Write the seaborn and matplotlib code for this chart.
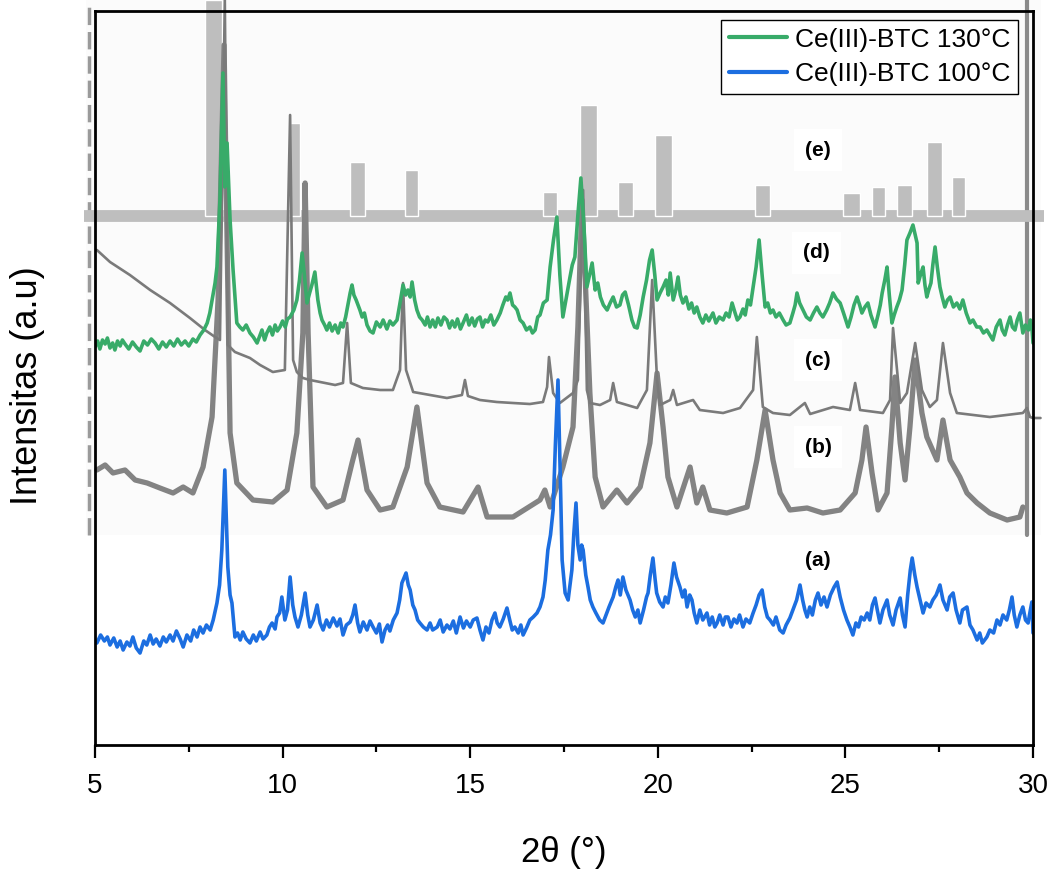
import numpy as np
import pandas as pd
import matplotlib.pyplot as plt
import seaborn as sns
from matplotlib.lines import Line2D
from matplotlib.patches import Rectangle

# (a) Ce(III)-BTC 100°C  - blue, (2theta, intensity)
blue_pts = [
    (5.05, 102), (5.15, 110), (5.25, 104), (5.33, 108), (5.40, 100), (5.50, 107), (5.59, 98), (5.67, 104),
    (5.75, 95), (5.85, 103), (5.93, 99), (6.01, 108), (6.10, 97), (6.20, 92), (6.30, 104), (6.38, 100),
    (6.47, 110), (6.55, 101), (6.63, 106), (6.73, 99), (6.82, 108), (6.90, 103), (7.00, 110), (7.08, 104),
    (7.17, 114), (7.27, 106), (7.35, 98), (7.45, 110), (7.55, 104), (7.63, 115), (7.72, 108), (7.80, 118),
    (7.88, 112), (7.97, 120), (8.07, 115), (8.15, 125), (8.25, 142), (8.32, 160), (8.38, 195), (8.46, 275),
    (8.54, 178), (8.60, 150), (8.65, 142), (8.70, 120), (8.73, 108), (8.80, 112), (8.87, 105), (8.94, 113),
    (9.03, 106), (9.13, 102), (9.22, 110), (9.30, 104), (9.40, 113), (9.48, 106), (9.58, 110), (9.65, 118),
    (9.72, 122), (9.80, 116), (9.85, 128), (9.92, 132), (9.98, 148), (10.06, 125), (10.13, 135), (10.20, 168),
    (10.27, 140), (10.33, 128), (10.41, 118), (10.50, 130), (10.60, 152), (10.67, 130), (10.73, 118), (10.82, 125),
    (10.92, 140), (11.00, 122), (11.08, 115), (11.17, 125), (11.25, 118), (11.35, 127), (11.45, 119), (11.53, 126),
    (11.61, 110), (11.70, 120), (11.80, 123), (11.87, 130), (11.93, 140), (12.00, 122), (12.06, 113), (12.15, 123),
    (12.25, 115), (12.33, 124), (12.41, 118), (12.50, 112), (12.58, 121), (12.65, 103), (12.73, 115), (12.80, 120),
    (12.86, 114), (12.95, 125), (13.05, 132), (13.12, 145), (13.18, 162), (13.29, 172), (13.35, 160), (13.40, 155),
    (13.47, 140), (13.53, 135), (13.60, 125), (13.66, 122), (13.75, 118), (13.85, 115), (13.93, 122), (14.00, 115),
    (14.12, 118), (14.20, 125), (14.28, 113), (14.38, 120), (14.46, 116), (14.55, 124), (14.63, 112), (14.73, 128),
    (14.82, 117), (14.90, 124), (15.00, 118), (15.08, 125), (15.18, 127), (15.26, 115), (15.34, 105), (15.42, 118),
    (15.50, 112), (15.58, 125), (15.66, 132), (15.72, 122), (15.79, 118), (15.88, 126), (15.98, 137), (16.06, 124),
    (16.12, 115), (16.19, 118), (16.28, 112), (16.35, 120), (16.41, 110), (16.50, 117), (16.59, 125), (16.68, 128),
    (16.78, 132), (16.86, 138), (16.94, 148), (17.00, 165), (17.07, 195), (17.14, 210), (17.21, 235), (17.27, 300),
    (17.34, 365), (17.40, 270), (17.45, 185), (17.53, 152), (17.61, 145), (17.66, 160), (17.71, 175), (17.76, 210),
    (17.82, 242), (17.87, 200), (17.93, 185), (17.97, 200), (18.01, 195), (18.08, 170), (18.14, 158), (18.20, 145),
    (18.27, 138), (18.35, 132), (18.45, 125), (18.54, 122), (18.62, 130), (18.70, 138), (18.81, 148), (18.88, 158),
    (18.94, 165), (19.00, 150), (19.07, 168), (19.15, 155), (19.26, 145), (19.33, 135), (19.40, 128), (19.47, 135),
    (19.53, 122), (19.62, 135), (19.70, 148), (19.74, 152), (19.80, 170), (19.87, 187), (19.93, 165), (19.97, 152),
    (20.05, 143), (20.14, 138), (20.20, 148), (20.27, 142), (20.35, 160), (20.43, 182), (20.50, 168), (20.59, 158),
    (20.66, 148), (20.72, 155), (20.78, 138), (20.85, 150), (20.91, 145), (20.97, 132), (21.04, 122), (21.12, 135),
    (21.20, 125), (21.31, 132), (21.38, 120), (21.45, 128), (21.52, 118), (21.58, 122), (21.65, 130), (21.74, 120),
    (21.80, 128), (21.87, 128), (21.95, 118), (22.03, 126), (22.11, 122), (22.18, 130), (22.27, 118), (22.35, 126),
    (22.45, 122), (22.54, 132), (22.62, 140), (22.70, 150), (22.78, 155), (22.85, 138), (22.92, 128), (22.99, 125),
    (23.08, 120), (23.15, 128), (23.25, 115), (23.34, 112), (23.42, 120), (23.52, 127), (23.60, 135), (23.70, 145),
    (23.79, 160), (23.86, 145), (23.92, 135), (23.98, 128), (24.05, 138), (24.12, 130), (24.20, 145), (24.27, 152),
    (24.35, 140), (24.43, 148), (24.51, 138), (24.60, 150), (24.70, 158), (24.78, 163), (24.86, 148), (24.95, 135),
    (25.04, 125), (25.12, 118), (25.20, 110), (25.28, 122), (25.35, 118), (25.42, 128), (25.50, 125), (25.58, 132),
    (25.65, 125), (25.72, 140), (25.79, 147), (25.85, 135), (25.92, 122), (26.00, 135), (26.11, 145), (26.18, 130),
    (26.27, 120), (26.35, 135), (26.46, 147), (26.52, 130), (26.59, 118), (26.66, 150), (26.73, 175), (26.78, 187),
    (26.85, 170), (26.91, 158), (26.99, 145), (27.07, 132), (27.15, 142), (27.25, 138), (27.33, 145), (27.42, 150),
    (27.52, 160), (27.60, 145), (27.71, 135), (27.78, 148), (27.87, 152), (27.95, 135), (28.05, 122), (28.12, 135),
    (28.24, 138), (28.32, 120), (28.40, 115), (28.51, 105), (28.58, 112), (28.65, 102), (28.77, 108), (28.85, 115),
    (28.95, 112), (29.04, 125), (29.12, 120), (29.20, 130), (29.30, 125), (29.37, 135), (29.44, 148), (29.50, 130),
    (29.57, 118), (29.65, 130), (29.73, 138), (29.80, 125), (29.87, 122), (29.93, 135), (29.97, 143), (30.00, 112),
]

# (d) Ce(III)-BTC 130°C  - green
green_pts = [
    (5.00, 398), (5.07, 404), (5.13, 396), (5.20, 405), (5.27, 401), (5.33, 407), (5.40, 397), (5.47, 402),
    (5.53, 395), (5.60, 404), (5.67, 399), (5.73, 405), (5.80, 401), (5.90, 396), (6.00, 403), (6.10, 398),
    (6.20, 394), (6.30, 404), (6.40, 400), (6.50, 406), (6.60, 402), (6.70, 396), (6.80, 403), (6.90, 398),
    (7.00, 404), (7.10, 399), (7.20, 406), (7.30, 400), (7.40, 404), (7.50, 399), (7.61, 406), (7.70, 403),
    (7.80, 410), (7.90, 415), (7.99, 422), (8.06, 432), (8.12, 445), (8.20, 462), (8.25, 478), (8.33, 545),
    (8.41, 672), (8.46, 558), (8.52, 602), (8.60, 525), (8.68, 475), (8.78, 422), (8.86, 418), (8.94, 415),
    (9.03, 420), (9.13, 412), (9.22, 408), (9.32, 402), (9.40, 410), (9.45, 415), (9.52, 405), (9.58, 412),
    (9.66, 418), (9.73, 410), (9.80, 420), (9.86, 414), (9.93, 418), (10.00, 424), (10.07, 418), (10.13, 426),
    (10.20, 428), (10.30, 435), (10.38, 445), (10.45, 465), (10.52, 492), (10.58, 470), (10.65, 442), (10.72, 452),
    (10.78, 460), (10.86, 473), (10.94, 445), (11.00, 432), (11.05, 425), (11.12, 420), (11.18, 415), (11.25, 422),
    (11.32, 414), (11.40, 420), (11.48, 412), (11.55, 422), (11.61, 418), (11.68, 428), (11.74, 440), (11.80, 452),
    (11.85, 460), (11.90, 450), (11.96, 445), (12.06, 435), (12.12, 428), (12.18, 432), (12.25, 420), (12.33, 414),
    (12.41, 412), (12.50, 423), (12.60, 418), (12.68, 425), (12.78, 416), (12.86, 424), (12.94, 420), (13.05, 425),
    (13.12, 440), (13.21, 460), (13.28, 450), (13.34, 455), (13.40, 448), (13.45, 463), (13.52, 445), (13.58, 435),
    (13.65, 428), (13.72, 425), (13.80, 420), (13.86, 428), (13.93, 418), (14.00, 425), (14.07, 418), (14.14, 427),
    (14.22, 420), (14.30, 428), (14.38, 425), (14.45, 417), (14.52, 424), (14.59, 418), (14.66, 426), (14.74, 416),
    (14.81, 422), (14.90, 430), (14.97, 420), (15.05, 427), (15.12, 419), (15.19, 426), (15.26, 428), (15.33, 418),
    (15.40, 425), (15.47, 423), (15.55, 430), (15.63, 420), (15.71, 425), (15.80, 432), (15.87, 440), (15.95, 448),
    (16.00, 445), (16.06, 452), (16.13, 440), (16.19, 438), (16.25, 435), (16.33, 425), (16.41, 422), (16.50, 415),
    (16.59, 418), (16.66, 412), (16.73, 415), (16.80, 428), (16.86, 430), (16.95, 442), (17.05, 445), (17.13, 478),
    (17.22, 505), (17.31, 528), (17.39, 470), (17.47, 428), (17.55, 445), (17.66, 468), (17.72, 480), (17.79, 488),
    (17.87, 530), (17.95, 567), (18.03, 520), (18.11, 458), (18.18, 470), (18.25, 482), (18.33, 455), (18.40, 462),
    (18.47, 448), (18.55, 440), (18.65, 435), (18.73, 442), (18.81, 448), (18.90, 438), (18.99, 440), (19.06, 450),
    (19.13, 453), (19.22, 440), (19.31, 425), (19.38, 418), (19.45, 417), (19.53, 430), (19.61, 448), (19.70, 465),
    (19.78, 485), (19.85, 495), (19.92, 470), (19.98, 445), (20.06, 452), (20.14, 458), (20.22, 465), (20.28, 450),
    (20.33, 472), (20.41, 445), (20.48, 455), (20.54, 468), (20.60, 450), (20.67, 442), (20.75, 448), (20.83, 436),
    (20.90, 442), (20.97, 432), (21.04, 438), (21.12, 428), (21.20, 422), (21.28, 430), (21.36, 424), (21.47, 432),
    (21.55, 422), (21.64, 428), (21.74, 425), (21.82, 432), (21.90, 428), (21.98, 442), (22.06, 432), (22.12, 425),
    (22.19, 428), (22.27, 436), (22.33, 430), (22.40, 445), (22.47, 440), (22.54, 458), (22.62, 478), (22.70, 505),
    (22.78, 470), (22.86, 438), (22.93, 442), (23.00, 432), (23.07, 435), (23.15, 428), (23.24, 432), (23.34, 425),
    (23.42, 420), (23.52, 422), (23.60, 432), (23.66, 440), (23.71, 452), (23.78, 442), (23.87, 435), (23.96, 428),
    (24.06, 425), (24.15, 432), (24.24, 438), (24.32, 432), (24.40, 428), (24.50, 435), (24.58, 442), (24.67, 452),
    (24.76, 446), (24.86, 442), (24.95, 432), (25.07, 418), (25.15, 428), (25.23, 440), (25.31, 448), (25.38, 440),
    (25.44, 432), (25.52, 438), (25.60, 442), (25.68, 430), (25.79, 418), (25.87, 430), (25.93, 440), (25.98, 452),
    (26.05, 465), (26.11, 478), (26.17, 450), (26.24, 422), (26.30, 430), (26.37, 438), (26.44, 445), (26.51, 455),
    (26.58, 480), (26.64, 505), (26.72, 512), (26.80, 520), (26.86, 510), (26.91, 502), (26.94, 462), (27.00, 470),
    (27.07, 478), (27.12, 460), (27.17, 448), (27.22, 455), (27.28, 462), (27.33, 480), (27.39, 498), (27.45, 478),
    (27.52, 458), (27.58, 448), (27.65, 438), (27.72, 445), (27.79, 448), (27.88, 438), (27.97, 442), (28.05, 436),
    (28.13, 445), (28.22, 432), (28.32, 422), (28.40, 425), (28.50, 418), (28.59, 418), (28.68, 412), (28.77, 415),
    (28.85, 410), (28.93, 405), (29.02, 418), (29.12, 425), (29.18, 415), (29.25, 410), (29.32, 420), (29.39, 428),
    (29.45, 418), (29.52, 415), (29.58, 425), (29.65, 432), (29.73, 412), (29.80, 420), (29.88, 415), (29.93, 425),
    (29.97, 418), (30.00, 402),
]

# (c) reference pattern - thin grey
c_pts = [
    (5.05, 495), (5.40, 483), (5.93, 470), (6.47, 455), (7.00, 442), (7.53, 427), (7.93, 415), (8.20, 408),
    (8.33, 405), (8.46, 745), (8.54, 400), (8.73, 393), (9.13, 387), (9.40, 380), (9.74, 373), (10.06, 375),
    (10.20, 630), (10.28, 385), (10.38, 373), (10.54, 367), (10.73, 365), (11.00, 363), (11.40, 360), (11.61, 362),
    (11.72, 422), (11.82, 362), (12.14, 357), (12.60, 355), (12.94, 355), (13.13, 375), (13.21, 462), (13.29, 375),
    (13.48, 353), (13.93, 350), (14.38, 347), (14.78, 350), (14.86, 365), (14.94, 349), (15.26, 345), (15.71, 343),
    (16.14, 342), (16.59, 341), (16.94, 343), (17.05, 358), (17.10, 388), (17.21, 352), (17.39, 342), (17.74, 352),
    (17.87, 365), (18.01, 555), (18.11, 355), (18.19, 342), (18.46, 340), (18.73, 345), (18.81, 362), (18.91, 343),
    (19.45, 337), (19.71, 355), (19.85, 465), (19.98, 365), (20.06, 340), (20.33, 345), (20.41, 355), (20.51, 340),
    (20.94, 345), (21.12, 335), (21.74, 332), (22.19, 337), (22.54, 355), (22.64, 408), (22.80, 338), (23.07, 332),
    (23.52, 330), (23.92, 342), (24.06, 331), (24.67, 338), (25.12, 335), (25.26, 362), (25.39, 335), (26.00, 332),
    (26.19, 345), (26.27, 417), (26.46, 342), (26.64, 352), (26.86, 402), (27.04, 355), (27.25, 338), (27.44, 345),
    (27.60, 402), (27.79, 352), (27.97, 332), (28.85, 328), (29.73, 332), (29.84, 337), (29.92, 328), (30.00, 327),
    (30.20, 327),
]

# (b) reference pattern - thick grey
b_pts = [
    (5.05, 275), (5.27, 280), (5.48, 272), (5.80, 275), (6.07, 265), (6.39, 262), (6.73, 257), (7.08, 252),
    (7.35, 258), (7.61, 252), (7.88, 278), (8.12, 328), (8.28, 445), (8.44, 700), (8.60, 312), (8.78, 262),
    (9.21, 245), (9.74, 243), (10.12, 255), (10.38, 312), (10.54, 412), (10.60, 562), (10.68, 412), (10.81, 258),
    (11.18, 238), (11.61, 245), (11.85, 282), (12.01, 305), (12.25, 255), (12.60, 235), (12.94, 238), (13.32, 278),
    (13.58, 338), (13.85, 262), (14.19, 238), (14.81, 233), (15.21, 258), (15.45, 228), (16.14, 228), (16.86, 245),
    (16.99, 255), (17.13, 238), (17.47, 278), (17.74, 318), (17.87, 418), (17.98, 545), (18.19, 352), (18.33, 268),
    (18.54, 238), (18.91, 255), (19.18, 242), (19.53, 258), (19.79, 302), (19.98, 372), (20.14, 318), (20.27, 268),
    (20.51, 238), (20.86, 278), (21.04, 242), (21.20, 258), (21.39, 235), (21.84, 232), (22.38, 238), (22.64, 285),
    (22.86, 335), (23.07, 285), (23.26, 252), (23.52, 235), (23.98, 237), (24.40, 232), (24.86, 235), (25.26, 252),
    (25.44, 285), (25.55, 318), (25.71, 272), (25.87, 235), (26.11, 252), (26.24, 318), (26.32, 368), (26.46, 302),
    (26.59, 265), (26.72, 318), (26.86, 385), (27.04, 332), (27.17, 308), (27.44, 285), (27.60, 325), (27.79, 285),
    (28.05, 268), (28.24, 252), (28.51, 242), (28.85, 232), (29.31, 225), (29.65, 228), (29.73, 238),
]

# (e) reference pattern - light grey stick peaks
e_base = 529
e_span = [4.7, 30.28]
e_left = [7.93, 10.20, 11.80, 13.26, 16.94, 17.93, 18.94, 19.93, 22.59,
          24.94, 25.71, 26.37, 27.17, 27.84]
e_right = [8.38, 10.46, 12.20, 13.61, 17.31, 18.38, 19.34, 20.38, 22.99,
           25.39, 26.05, 26.78, 27.57, 28.19]
e_top = [745, 622, 583, 575, 553, 640, 563, 610, 560,
         552, 558, 560, 603, 568]

lab_text = ['(a)', '(b)', '(c)', '(d)', '(e)']
lab_x = [24.27, 24.27, 24.27, 24.22, 24.27]
lab_y = [185, 298, 385, 492, 595]

legend_labels = ['Ce(III)-BTC 130°C', 'Ce(III)-BTC 100°C']
green = '#38ab69'
blue = '#1c6ee0'

a_theta, a_int = zip(*blue_pts)
d_theta, d_int = zip(*green_pts)
c_theta, c_int = zip(*c_pts)
b_theta, b_int = zip(*b_pts)

sns.set_theme(style='white')
plt.rcParams['font.family'] = ['Liberation Sans', 'DejaVu Sans']
plt.rcParams['text.color'] = 'black'
plt.rcParams['axes.labelcolor'] = 'black'
plt.rcParams['xtick.color'] = 'black'

fig = plt.figure(figsize=(10.54, 8.72), dpi=100)
ax = fig.add_axes([95 / 1054, 127 / 872, 938 / 1054, 734 / 872])

# pasted picture behind the curves
ax.add_patch(Rectangle((4.75, 210), 25.45, 540, facecolor='#fbfbfb',
                       edgecolor='none', zorder=0, clip_on=False))
ax.plot([4.85, 4.85], [210, 740], color='#9a9a9a', lw=2.5,
        ls=(0, (5, 2)), clip_on=False, zorder=1)
ax.plot([29.85, 29.85], [210, 745], color='#8a8a8a', lw=3,
        clip_on=False, zorder=1)

# (e)
ax.plot(e_span, [e_base, e_base], color='#bebebe', lw=8.5,
        solid_capstyle='butt', clip_on=False, zorder=1.5)
ax.bar(e_left, np.array(e_top) - e_base, width=np.array(e_right) - np.array(e_left),
       bottom=e_base, align='edge', color='#bebebe', zorder=1.5, clip_on=False)

# (b) and (c)
sns.lineplot(x=list(b_theta), y=list(b_int), ax=ax, color='#838383', lw=3.8, sort=False,
             clip_on=False, zorder=2)
sns.lineplot(x=list(c_theta), y=list(c_int), ax=ax, color='#7a7a7a', lw=1.9, sort=False,
             clip_on=False, zorder=2.2)

# (d) and (a)
sns.lineplot(x=list(d_theta), y=list(d_int), ax=ax, color=green, lw=2.6, sort=False, zorder=4)
sns.lineplot(x=list(a_theta), y=list(a_int), ax=ax, color=blue, lw=2.6, sort=False, zorder=5)

for t, x, y in zip(lab_text, lab_x, lab_y):
    ax.text(x, y, t, fontsize=15, fontweight='bold', ha='center', va='center',
            color='black', zorder=3,
            bbox=dict(facecolor='white', edgecolor='none', pad=8))

ax.set_xlim(5, 30)
ax.set_ylim(0, 734)
ax.set_yticks([])
ax.set_xticks(np.arange(5, 31, 5))
ax.set_xticks(np.arange(7.5, 30, 5), minor=True)
ax.tick_params(axis='x', which='major', bottom=True, direction='out', length=9.5,
               width=1.6, labelsize=20, pad=11, colors='black')
ax.tick_params(axis='x', which='minor', bottom=True, direction='out', length=5,
               width=1.6, colors='black')
for s in ax.spines.values():
    s.set_visible(True)
    s.set_color('black')
    s.set_linewidth(2)
    s.set_zorder(6)

ax.set_xlabel('2θ (°)', fontsize=25, labelpad=26)
ax.set_ylabel('Intensitas (a.u)', fontsize=26)
ax.yaxis.set_label_coords(-0.053, 0.49)

handles = [Line2D([], [], color=green, lw=3), Line2D([], [], color=blue, lw=3)]
leg = ax.legend(handles, legend_labels, loc='upper right', bbox_to_anchor=(0.984, 0.988),
                borderaxespad=0, fontsize=19, frameon=True, fancybox=False,
                edgecolor='black', framealpha=1, handlelength=2.2, handletextpad=0.3,
                labelspacing=0.38, borderpad=0.3)
leg.get_frame().set_linewidth(1.0)
leg.set_zorder(7)

fig.savefig('out.png', dpi=100)
